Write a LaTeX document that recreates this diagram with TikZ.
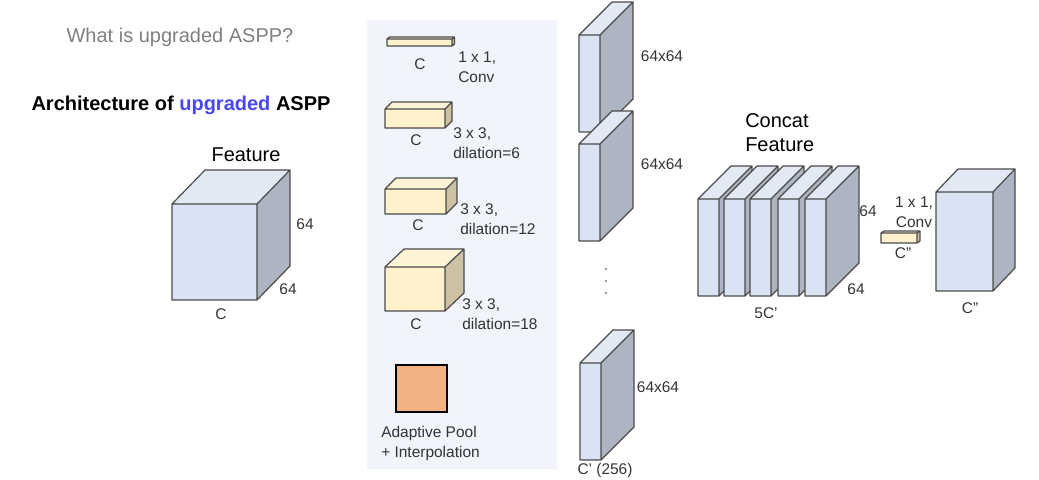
\documentclass[tikz,border=0pt]{standalone}
\usepackage{fontspec}
\setmainfont{Liberation Sans}
\usepackage{xcolor}
\definecolor{bluefront}{HTML}{DAE3F3}
\definecolor{bluetop}{HTML}{E2E8F4}
\definecolor{blueside}{HTML}{AEB5C2}
\definecolor{creamfront}{HTML}{FFF2CC}
\definecolor{creamtop}{HTML}{FFF5D6}
\definecolor{creamside}{HTML}{CCC2A3}
\definecolor{panel}{HTML}{F1F4FD}
\definecolor{pool}{HTML}{F4B183}
\definecolor{edge}{HTML}{4A4A4A}
\definecolor{ink}{HTML}{333333}
\definecolor{hilite}{HTML}{4A47F0}
\tikzset{
  dim/.style={font=\fontsize{11.6}{15}\selectfont,text=ink,inner sep=0pt},
  note/.style={dim,align=left},
  head/.style={font=\fontsize{15}{18}\selectfont,text=black,inner sep=0pt,align=left},
}
% x y w h dx dy palette
\newcommand{\cuboid}[7]{
  \fill[#7front] (#1,#2) rectangle (#1+#3,#2+#4);
  \fill[#7top] (#1,#2) -- (#1+#5,#2-#6) -- (#1+#3+#5,#2-#6) -- (#1+#3,#2) -- cycle;
  \fill[#7side] (#1+#3,#2) -- (#1+#3+#5,#2-#6) -- (#1+#3+#5,#2+#4-#6) -- (#1+#3,#2+#4) -- cycle;
  \draw[edge,line width=0.9pt,line join=round] (#1,#2) rectangle (#1+#3,#2+#4)
    (#1,#2) -- (#1+#5,#2-#6) -- (#1+#3+#5,#2-#6) -- (#1+#3,#2)
    (#1+#3+#5,#2-#6) -- (#1+#3+#5,#2+#4-#6) -- (#1+#3,#2+#4);
}
\begin{document}
\begin{tikzpicture}[x=0.75pt,y=-0.75pt]
  \useasboundingbox (0,0) rectangle (1039,479);

  % Titles
  \node[font=\fontsize{15}{18}\selectfont,text=black!50,inner sep=0pt] (question) at (180,37) {What is upgraded ASPP?};
  \node[font=\fontsize{15}{18}\selectfont\bfseries,inner sep=0pt] (title) at (181,105) {Architecture of \textcolor{hilite}{upgraded} ASPP};

  % Feature
  \cuboid{172}{204}{85}{96}{33}{34}{blue}
  \node[head] (feature) at (246,155) {Feature};
  \node[dim] (featc) at (221,314) {C};
  \node[dim] (feath) at (305,224) {64};
  \node[dim] (featd) at (288,289) {64};

  % Branches
  \fill[panel] (367,20) rectangle (557,469);
  \cuboid{387}{39}{65}{7}{2.5}{2}{cream}
  \node[dim] (conv1c) at (420,64) {C};
  \node[note,anchor=west] (conv1) at (458,67) {1 x 1,\\Conv};
  \cuboid{385}{109}{60}{19}{7}{7}{cream}
  \node[dim] (conv2c) at (416,140) {C};
  \node[note,anchor=west] (conv2) at (453,143) {3 x 3,\\dilation=6};
  \cuboid{385}{189}{61}{25}{11}{11}{cream}
  \node[dim] (conv3c) at (418,225) {C};
  \node[note,anchor=west] (conv3) at (460,219) {3 x 3,\\dilation=12};
  \cuboid{385}{267}{60}{44}{19}{18}{cream}
  \node[dim] (conv4c) at (416,324) {C};
  \node[note,anchor=west] (conv4) at (462,314) {3 x 3,\\dilation=18};
  \draw[black,fill=pool,line width=1.2pt] (396,365) rectangle (447,412);
  \node[note,anchor=west] (poolnote) at (381,443) {Adaptive Pool\\+ Interpolation};

  % Outputs
  \cuboid{579}{35}{21}{97}{33}{33}{blue}
  \node[dim] (out1) at (662,56) {64x64};
  \cuboid{579}{144}{21}{97}{33}{33}{blue}
  \node[dim] (out2) at (662,164) {64x64};
  \foreach \dy [count=\i] in {269,281,293}
    \fill[ink] (606,\dy) circle (0.8);
  \cuboid{580}{363}{21}{97}{33}{33}{blue}
  \node[dim] (out3) at (658,387) {64x64};
  \node[dim] (outc) at (605,470) {C' (256)};

  % Concat
  \foreach \cx in {698,724,750,778,805}{
    \cuboid{\cx}{199}{21}{97}{33}{33}{blue}
  }
  \node[head,anchor=west] (concat) at (745,133) {Concat\\Feature};
  \node[dim] (cath) at (868,211) {64};
  \node[dim] (catd) at (856,289) {64};
  \node[dim] (catc) at (766,313) {5C'};

  % Output conv
  \cuboid{881}{233}{36}{10}{3}{2}{cream}
  \node[note,align=center] (convout) at (914,212) {1 x 1,\\Conv};
  \node[dim] (convc) at (903,253) {C''};
  \cuboid{936}{192}{57}{99}{22}{23}{blue}
  \node[dim] (finalc) at (970,308) {C''};
\end{tikzpicture}
\end{document}
